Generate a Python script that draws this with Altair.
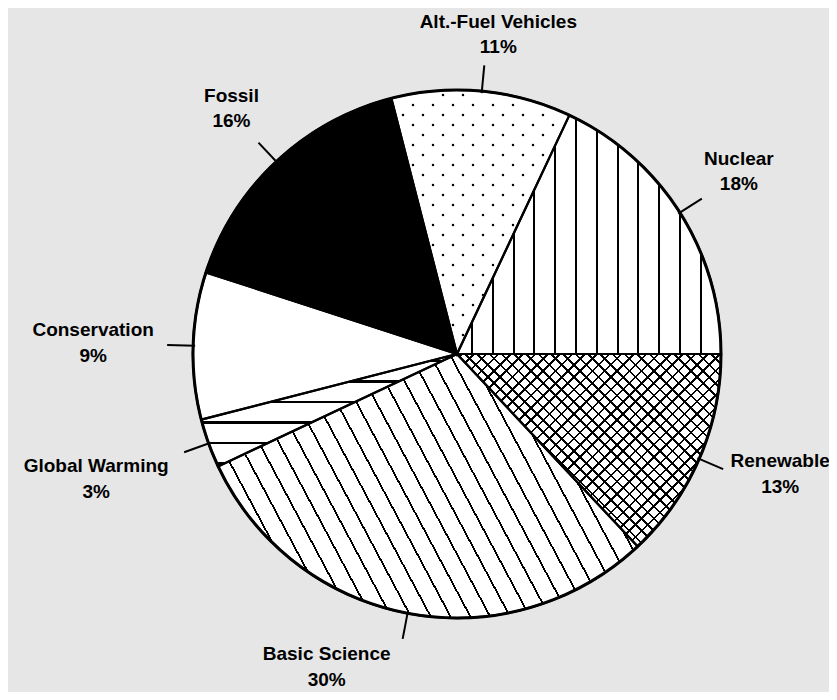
import math
import altair as alt
import pandas as pd

# ---------------- data ----------------
categories = ["Nuclear", "Alt.-Fuel Vehicles", "Fossil", "Conservation",
              "Global Warming", "Basic Science", "Renewable"]
shares = [18, 11, 16, 9, 3, 30, 13]
pct_labels = ["18%", "11%", "16%", "9%", "3%", "30%", "13%"]

# ---------------- style / layout ----------------
CX, CY, R = 449, 346, 264          # pie centre & radius (plot px)
LEAD_IN, LEAD_OUT = 262, 290        # leader line radii
LINE_GAP = 12.75                    # half distance between label baselines
BG = "#e6e6e6"
FONT = "Liberation Sans"
FONT_SIZE = 19
LABEL_NUDGE = {                      # label-block offset from leader end
    "Nuclear": (37, -21), "Alt.-Fuel Vehicles": (14, -25), "Fossil": (-27, -28),
    "Conservation": (-74, 4), "Global Warming": (-88, 33),
    "Basic Science": (-76, 34), "Renewable": (57, 11),
}

df = pd.DataFrame({
    "cat": categories, "share": shares, "pct": pct_labels,
    "order": list(range(len(categories))),
    "ndx": [LABEL_NUDGE[c][0] for c in categories],
    "ndy": [LABEL_NUDGE[c][1] for c in categories],
})

# slice angles (deg, counter-clockwise from 3 o'clock) for pattern geometry
angles = {}
_cum = 0
for c, s in zip(categories, shares):
    a0 = _cum * 3.6
    _cum += s
    angles[c] = (a0, _cum * 3.6)


def slice_bbox(a0, a1):
    pts = [(0.0, 0.0)]
    for a in [a0, a1] + [k * 90 for k in range(5) if a0 < k * 90 < a1]:
        pts.append((R * math.cos(math.radians(a)), -R * math.sin(math.radians(a))))
    xs = [p[0] for p in pts]
    ys = [p[1] for p in pts]
    return min(xs), min(ys), max(xs) - min(xs), max(ys) - min(ys)


def hatch(cat, normal_deg, spacing, width, phase, bg="#ffffff", fg="#000000"):
    a0, a1 = angles[cat]
    x0, y0, W, H = slice_bbox(a0, a1)
    nx, ny = math.cos(math.radians(normal_deg)), math.sin(math.radians(normal_deg))
    corners = [(0, 0), (W, 0), (0, H), (W, H)]
    dabs = [(CX + x0 + cx) * nx + (CY + y0 + cy) * ny for cx, cy in corners]
    i = min(range(4), key=lambda j: dabs[j])
    dmin, dmax = dabs[i], max(dabs)
    span = dmax - dmin
    k = span / (nx * nx * W * W + ny * ny * H * H)
    u1, v1 = corners[i][0] / W, corners[i][1] / H
    x2, y2 = u1 + nx * W * k, v1 + ny * H * k
    stops = [(0.0, bg)]
    n0 = math.floor((dmin - phase - width) / spacing)
    n1 = math.ceil((dmax - phase + width) / spacing)
    for n in range(n0, n1 + 1):
        c = phase + n * spacing
        lo = (c - width / 2 - dmin) / span
        hi = (c + width / 2 - dmin) / span
        if hi <= 0 or lo >= 1:
            continue
        lo, hi = max(lo, 0.0), min(hi, 1.0)
        stops += [(lo, bg), (lo, fg), (hi, fg), (hi, bg)]
    stops.append((1.0, bg))
    out, last = [], 0.0
    for o, col in stops:
        o = max(last, round(o, 5))
        last = o
        out.append({"offset": o, "color": col})
    return {"gradient": "linear", "x1": round(u1, 5), "y1": round(v1, 5),
            "x2": round(x2, 5), "y2": round(y2, 5), "stops": out}


FILLS = {
    "Nuclear": hatch("Nuclear", 0, 20.8, 2.0, 568),
    "Alt.-Fuel Vehicles": "#ffffff",
    "Fossil": "#000000",
    "Conservation": "#ffffff",
    "Global Warming": hatch("Global Warming", 90, 20.5, 2.0, 394),
    "Basic Science": hatch("Basic Science", -28, 17.5, 1.8, 0),
    "Renewable": hatch("Renewable", 45, 8.7, 1.8, 0),
}
RENEW_OVER = hatch("Renewable", -45, 8.7, 1.8, 0, bg="rgba(255,255,255,0)")

base = alt.Chart(df).transform_window(
    cum="sum(share)", sort=[alt.SortField("order")], frame=[None, 0]
).transform_calculate(
    a0="(datum.cum - datum.share) * 3.6",
    a1="datum.cum * 3.6",
).transform_calculate(
    t0="(450 - datum.a1) * PI / 180",
    t1="(450 - datum.a0) * PI / 180",
    am="(datum.a0 + datum.a1) / 2 * PI / 180",
).transform_calculate(
    sx=f"{CX} + {LEAD_IN} * cos(datum.am)",
    sy=f"{CY} - {LEAD_IN} * sin(datum.am)",
    ex=f"{CX} + {LEAD_OUT} * cos(datum.am)",
    ey=f"{CY} - {LEAD_OUT} * sin(datum.am)",
).transform_calculate(
    lx="datum.ex + datum.ndx",
    ly1=f"datum.ey + datum.ndy - {LINE_GAP}",
    ly2=f"datum.ey + datum.ndy + {LINE_GAP}",
)

arc_enc = dict(
    theta=alt.Theta("t0:Q", scale=None, stack=None),
    theta2=alt.Theta2("t1:Q"),
    x=alt.value(CX), y=alt.value(CY),
)

layers = []
for cat in categories:
    layers.append(
        base.transform_filter(alt.datum.cat == cat)
        .mark_arc(radius=R, fill=FILLS[cat], strokeWidth=0)
        .encode(**arc_enc)
    )
layers.append(
    base.transform_filter(alt.datum.cat == "Renewable")
    .mark_arc(radius=R, fill=RENEW_OVER, strokeWidth=0)
    .encode(**arc_enc)
)

# dotted texture of the Alt.-Fuel slice
af0, af1 = angles["Alt.-Fuel Vehicles"]
dots = alt.Chart(alt.sequence(0, 13 * 28, as_="i")).transform_calculate(
    row="floor(datum.i / 13)", col="datum.i % 13",
).transform_calculate(
    px="325 + datum.col * 20 + (datum.row % 2) * 10",
    py="77 + datum.row * 10",
).transform_calculate(
    rr=f"sqrt(pow(datum.px - {CX}, 2) + pow({CY} - datum.py, 2))",
    ang=f"atan2({CY} - datum.py, datum.px - {CX}) * 180 / PI",
).transform_filter(
    f"datum.rr < {R - 4} && datum.ang > {af0 + 1.2} && datum.ang < {af1 - 1.2}"
).mark_circle(size=6, color="black", opacity=1).encode(
    x=alt.X("px:Q", scale=None), y=alt.Y("py:Q", scale=None)
)
layers.append(dots)

outline = base.mark_arc(radius=R, fillOpacity=0, stroke="black", strokeWidth=2.2).encode(**arc_enc)
ring = base.transform_filter(alt.datum.order == 0).mark_arc(
    radius=R, fillOpacity=0, stroke="black", strokeWidth=3
).encode(theta=alt.value(0), theta2=alt.value(2 * math.pi), x=alt.value(CX), y=alt.value(CY))

leaders = base.mark_rule(color="black", strokeWidth=2).encode(
    x=alt.X("sx:Q", scale=None), y=alt.Y("sy:Q", scale=None),
    x2="ex:Q", y2="ey:Q",
)
names = base.mark_text(font=FONT, fontWeight="bold", fontSize=FONT_SIZE, align="center",
                       baseline="alphabetic", color="black").encode(
    x=alt.X("lx:Q", scale=None), y=alt.Y("ly1:Q", scale=None), text="cat:N"
)
pcts = base.mark_text(font=FONT, fontWeight="bold", fontSize=FONT_SIZE, align="center",
                      baseline="alphabetic", color="black").encode(
    x=alt.X("lx:Q", scale=None), y=alt.Y("ly2:Q", scale=None), text="pct:N"
)

chart = alt.layer(*layers, outline, ring, leaders, names, pcts).properties(
    width=821, height=684, background=BG, padding=0,
    autosize=alt.AutoSizeParams(type="none"),
).configure_view(stroke=None)

chart.save("out.html", embed_options={"renderer": "svg", "actions": False})
